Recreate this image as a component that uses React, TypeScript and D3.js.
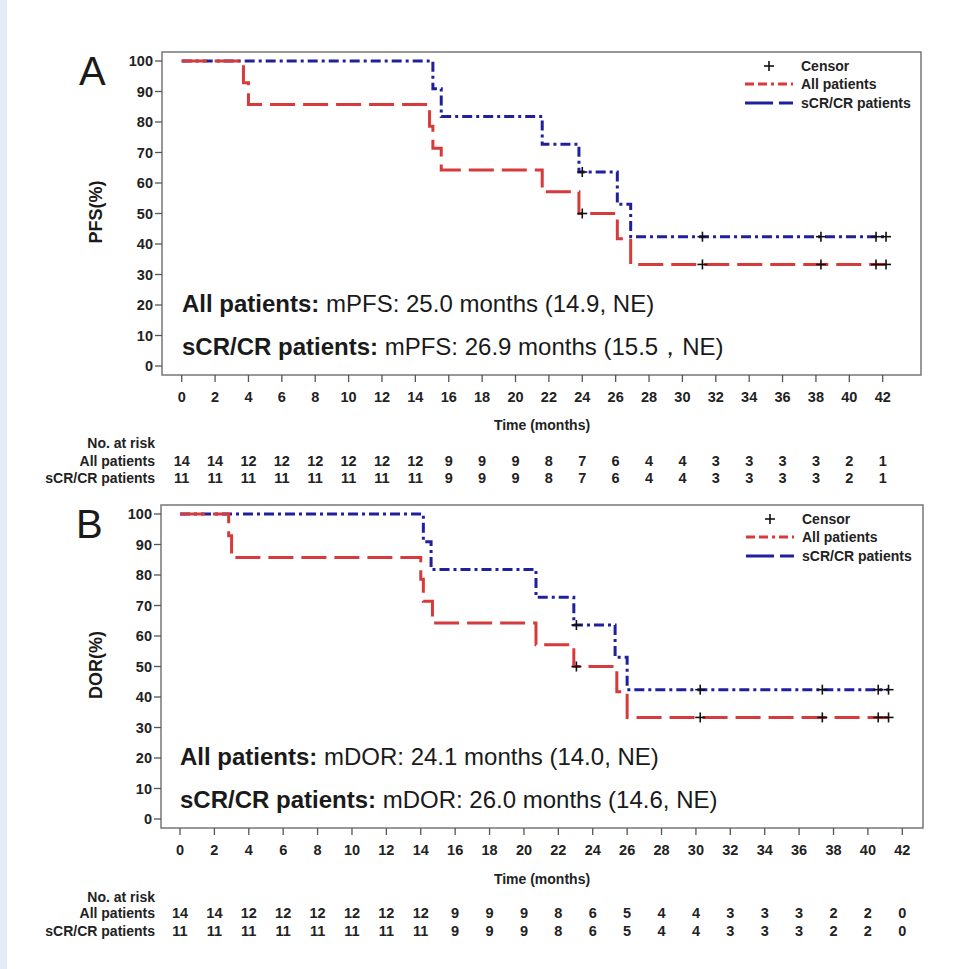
import React from "react";
import * as d3 from "d3";

// ---------- DATA ----------
const xTicks = d3.range(0, 43, 2);
const yTicks = d3.range(0, 101, 10);

// Panel A (PFS)
const pfsAllTimes = [0, 3.7, 4.0, 14.85, 15.05, 15.55, 21.6, 23.8, 26.1, 26.9];
const pfsAllSurv = [100, 92.9, 85.7, 78.6, 71.4, 64.3, 57.1, 50.0, 41.7, 33.3];
const pfsAllEnd = 42.2;
const pfsAllCensor = [24.0, 31.2, 38.3, 41.6, 42.2];
const pfsCrTimes = [0, 15.05, 15.55, 21.6, 23.8, 26.1, 26.9];
const pfsCrSurv = [100, 90.9, 81.8, 72.7, 63.6, 53.0, 42.4];
const pfsCrEnd = 42.2;
const pfsCrCensor = [24.0, 31.2, 38.3, 41.6, 42.2];
const pfsRiskAll = [14, 14, 12, 12, 12, 12, 12, 12, 9, 9, 9, 8, 7, 6, 4, 4, 3, 3, 3, 3, 2, 1];
const pfsRiskCr = [11, 11, 11, 11, 11, 11, 11, 11, 9, 9, 9, 8, 7, 6, 4, 4, 3, 3, 3, 3, 2, 1];

// Panel B (DOR)
const dorAllTimes = [0, 2.83, 3.0, 14.0, 14.15, 14.68, 20.7, 22.9, 25.4, 26.0];
const dorAllSurv = [100, 92.9, 85.7, 78.6, 71.4, 64.3, 57.1, 50.0, 41.7, 33.3];
const dorAllEnd = 41.2;
const dorAllCensor = [23.05, 30.25, 37.35, 40.6, 41.2];
const dorCrTimes = [0, 14.15, 14.6, 20.7, 22.9, 25.3, 26.0];
const dorCrSurv = [100, 90.9, 81.8, 72.7, 63.6, 53.0, 42.4];
const dorCrEnd = 41.2;
const dorCrCensor = [23.05, 30.25, 37.35, 40.6, 41.2];
const dorRiskAll = [14, 14, 12, 12, 12, 12, 12, 12, 9, 9, 9, 8, 6, 5, 4, 4, 3, 3, 3, 2, 2, 0];
const dorRiskCr = [11, 11, 11, 11, 11, 11, 11, 11, 9, 9, 9, 8, 6, 5, 4, 4, 3, 3, 3, 2, 2, 0];

const legendLabels = ["Censor", "All patients", "sCR/CR patients"];
const riskLabels = ["No. at risk", "All patients", "sCR/CR patients"];

const RED = "#d63a3a";
const BLUE = "#20209c";
const FONT = "Liberation Sans, Arial, sans-serif";
const TXT = "#1a1a1a";

type Curve = { times: number[]; surv: number[]; end: number; censor: number[] };

function survAt(c: Curve, t: number) {
  let s = c.surv[0];
  for (let i = 0; i < c.times.length; i++) if (c.times[i] <= t) s = c.surv[i];
  return s;
}

type PanelProps = {
  letter: string;
  yLabel: string;
  frame: { l: number; t: number; r: number; b: number };
  x0: number; x42: number; y100: number; y0: number;
  all: Curve; cr: Curve;
  ann: [string, string];
  annX: number; annY: [number, number];
  legend: { x: number; y: number };
  risk: { all: number[]; cr: number[]; y: [number, number, number] };
  timeLabelY: number;
  letterPos: [number, number];
  yLabelPos: [number, number];
};

function Panel(p: PanelProps) {
  const x = d3.scaleLinear().domain([0, 42]).range([p.x0, p.x42]);
  const y = d3.scaleLinear().domain([0, 100]).range([p.y0, p.y100]);
  const line = d3
    .line<[number, number]>()
    .x((d) => x(d[0]))
    .y((d) => y(d[1]))
    .curve(d3.curveStepAfter);
  const pts = (c: Curve): [number, number][] => [
    ...c.times.map((t, i) => [t, c.surv[i]] as [number, number]),
    [c.end, c.surv[c.surv.length - 1]],
  ];
  const { l, t, r, b } = p.frame;
  const plus = (cx: number, cy: number, k: string) => (
    <g key={k} stroke="#111" strokeWidth={1.6}>
      <line x1={cx - 5} x2={cx + 5} y1={cy} y2={cy} />
      <line x1={cx} x2={cx} y1={cy - 5} y2={cy + 5} />
    </g>
  );
  return (
    <g fontFamily={FONT}>
      <text x={p.letterPos[0]} y={p.letterPos[1]} fontSize={40} fill={TXT}>{p.letter}</text>
      <text
        transform={`translate(${p.yLabelPos[0]},${p.yLabelPos[1]}) rotate(-90)`}
        textAnchor="middle"
        fontSize={18}
        fontWeight="bold"
        fill={TXT}
      >
        {p.yLabel}
      </text>
      <rect x={l} y={t} width={r - l} height={b - t} fill="none" stroke="#777" strokeWidth={1.5} />
      {yTicks.map((v) => (
        <g key={"y" + v}>
          <line x1={l - 7} x2={l} y1={y(v)} y2={y(v)} stroke="#555" strokeWidth={1.3} />
          <text x={l - 9} y={y(v) + 5} textAnchor="end" fontSize={14.5} fontWeight="bold" fill="#222">{v}</text>
        </g>
      ))}
      {xTicks.map((v) => (
        <g key={"x" + v}>
          <line x1={x(v)} x2={x(v)} y1={b} y2={b + 7} stroke="#555" strokeWidth={1.3} />
          <text x={x(v)} y={b + 27} textAnchor="middle" fontSize={14.5} fontWeight="bold" fill="#222">{v}</text>
        </g>
      ))}
      <text x={542} y={p.timeLabelY} textAnchor="middle" fontSize={14} fontWeight="bold" fill="#222">Time (months)</text>

      <path d={line(pts(p.cr)) || ""} fill="none" stroke={BLUE} strokeWidth={3} strokeDasharray="10,4,3,4" />
      <path d={line(pts(p.all)) || ""} fill="none" stroke={RED} strokeWidth={3} strokeDasharray="25,8" />
      {p.cr.censor.map((c, i) => plus(x(c), y(survAt(p.cr, c)), "cc" + i))}
      {p.all.censor.map((c, i) => plus(x(c), y(survAt(p.all, c)), "ca" + i))}

      {/* legend */}
      {plus(p.legend.x + 24, p.legend.y, "lg")}
      <line x1={p.legend.x} x2={p.legend.x + 48} y1={p.legend.y + 18} y2={p.legend.y + 18} stroke={RED} strokeWidth={3} strokeDasharray="9,4,9,4,3,4" />
      <line x1={p.legend.x} x2={p.legend.x + 48} y1={p.legend.y + 37} y2={p.legend.y + 37} stroke={BLUE} strokeWidth={3} strokeDasharray="28,6" />
      {legendLabels.map((s, i) => (
        <text key={s} x={p.legend.x + 56} y={p.legend.y + 5 + [0, 18, 37][i]} fontSize={14} fontWeight="bold" fill="#222">{s}</text>
      ))}

      {/* annotations */}
      {p.ann.map((s, i) => (
        <text key={i} x={p.annX} y={p.annY[i]} fontSize={24} fill={TXT}>
          <tspan fontWeight="bold">{i === 0 ? "All patients:" : "sCR/CR patients:"}</tspan>
          <tspan>{" " + s}</tspan>
        </text>
      ))}

      {/* risk table */}
      {riskLabels.map((s, i) => (
        <text key={s} x={155} y={p.risk.y[i]} textAnchor="end" fontSize={14} fontWeight="bold" fill="#222">{s}</text>
      ))}
      {xTicks.map((v, i) => (
        <g key={"r" + v}>
          <text x={x(v)} y={p.risk.y[1]} textAnchor="middle" fontSize={14.5} fontWeight="bold" fill="#222">{p.risk.all[i]}</text>
          <text x={x(v)} y={p.risk.y[2]} textAnchor="middle" fontSize={14.5} fontWeight="bold" fill="#222">{p.risk.cr[i]}</text>
        </g>
      ))}
    </g>
  );
}

export default function App() {
  return (
    <div style={{ position: "absolute", left: 0, top: 0 }}>
      <svg width={964} height={969} style={{ display: "block", background: "#fff" }}>
        <rect x={0} y={0} width={7} height={969} fill="#e3ecf5" />
        <Panel
          letter="A"
          yLabel="PFS(%)"
          frame={{ l: 162, t: 52, r: 921, b: 375 }}
          x0={181.7} x42={882.7} y100={61} y0={366}
          all={{ times: pfsAllTimes, surv: pfsAllSurv, end: pfsAllEnd, censor: pfsAllCensor }}
          cr={{ times: pfsCrTimes, surv: pfsCrSurv, end: pfsCrEnd, censor: pfsCrCensor }}
          ann={["mPFS: 25.0 months (14.9, NE)", "mPFS: 26.9 months (15.5，NE)"]}
          annX={182}
          annY={[312, 355]}
          legend={{ x: 745, y: 66 }}
          risk={{ all: pfsRiskAll, cr: pfsRiskCr, y: [448, 466, 483] }}
          timeLabelY={430}
          letterPos={[79, 85]}
          yLabelPos={[102, 212]}
        />
        <Panel
          letter="B"
          yLabel="DOR(%)"
          frame={{ l: 161, t: 505, r: 923, b: 828 }}
          x0={180} x42={902.3} y100={514} y0={819}
          all={{ times: dorAllTimes, surv: dorAllSurv, end: dorAllEnd, censor: dorAllCensor }}
          cr={{ times: dorCrTimes, surv: dorCrSurv, end: dorCrEnd, censor: dorCrCensor }}
          ann={["mDOR: 24.1 months (14.0, NE)", "mDOR: 26.0 months (14.6, NE)"]}
          annX={180}
          annY={[765, 808]}
          legend={{ x: 746, y: 519 }}
          risk={{ all: dorRiskAll, cr: dorRiskCr, y: [902, 918, 936] }}
          timeLabelY={884}
          letterPos={[76, 538]}
          yLabelPos={[102, 665]}
        />
      </svg>
    </div>
  );
}
